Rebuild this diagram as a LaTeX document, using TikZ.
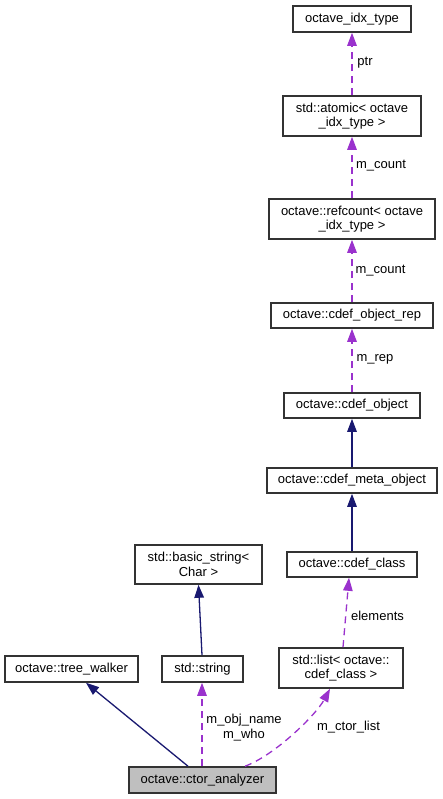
\documentclass[tikz,border=0pt]{standalone}
\usepackage{fontspec}
\setmainfont{Liberation Sans}
\usetikzlibrary{arrows.meta,calc}
\definecolor{navyedge}{HTML}{191970}
\definecolor{orchid}{HTML}{9A32CD}
\begin{document}
\begin{tikzpicture}[x=1pt,y=-1pt,
  box/.style={draw=black!80,line width=1.6pt,fill=white,inner sep=0pt,align=center,
    font=\fontsize{13}{14.5}\selectfont},
  mainbox/.style={box,fill=black!25},
  inh/.style={draw=navyedge,line width=1.3pt,-{Triangle[length=13pt,width=9.5pt]}},
  use/.style={draw=orchid,line width=1.3pt,dash pattern=on 7pt off 5pt,
    -{Triangle[length=13pt,width=9.5pt]}},
  lbl/.style={font=\fontsize{13}{15}\selectfont,inner sep=0pt,align=center}]
\useasboundingbox (0,0) rectangle (443,799);
\fill[white] (0,0) rectangle (443,799);

\node[box,minimum width=118pt,minimum height=26pt] (idx) at (352,19) {octave\_idx\_type};
\node[box,minimum width=138pt,minimum height=40pt] (atomic) at (352,116) {std::atomic< octave\\\_idx\_type >};
\node[box,minimum width=166pt,minimum height=40pt] (refc) at (352,219) {octave::refcount< octave\\\_idx\_type >};
\node[box,minimum width=162pt,minimum height=25pt] (orep) at (352,315.5) {octave::cdef\_object\_rep};
\node[box,minimum width=136pt,minimum height=25pt] (obj) at (352,405.5) {octave::cdef\_object};
\node[box,minimum width=170pt,minimum height=25pt] (meta) at (352,480.5) {octave::cdef\_meta\_object};
\node[box,minimum width=130pt,minimum height=25pt] (cls) at (352,564.5) {octave::cdef\_class};
\node[box,minimum width=127pt,minimum height=39pt] (bstr) at (198.5,564.5) {std::basic\_string<\\Char >};
\node[box,minimum width=133pt,minimum height=26pt] (tw) at (71.5,669) {octave::tree\_walker};
\node[box,minimum width=81pt,minimum height=26pt] (str) at (202.5,669) {std::string};
\node[box,minimum width=124pt,minimum height=40pt] (lst) at (341,668) {std::list< octave::\\cdef\_class >};
\node[mainbox,minimum width=147pt,minimum height=26pt] (ctor) at (202.5,780) {octave::ctor\_analyzer};

\draw[use] (atomic.north) -- (idx.south);
\draw[use] (refc.north) -- (atomic.south);
\draw[use] (orep.north) -- (refc.south);
\draw[use] (obj.north) -- (orep.south);
\draw[inh] (meta.north) -- (obj.south);
\draw[inh] (cls.north) -- (meta.south);
\draw[use] ([xshift=2pt]lst.north) -- ([xshift=-3pt]cls.south);
\draw[inh] ([xshift=-0.5pt]str.north) -- (bstr.south);
\draw[inh] ([xshift=-14.5pt]ctor.north) -- ([xshift=14.5pt]tw.south);
\draw[use] ([xshift=-0.5pt]ctor.north) -- ([xshift=-0.5pt]str.south);
\coordinate (la) at ([xshift=42.5pt]ctor.north);
\coordinate (lb) at ([xshift=-11pt]lst.south);
\draw[use] (la) .. controls ($(la)+(30,-11)$) and ($(lb)+(-14,26)$) .. (lb);

\node[lbl] (lptr) at (365,63) {ptr};
\node[lbl] (lcnt1) at (381,166) {m\_count};
\node[lbl] (lcnt2) at (380.5,271) {m\_count};
\node[lbl] (lrep) at (375,359) {m\_rep};
\node[lbl] (lel) at (377.5,616) {elements};
\node[lbl] (lobj) at (244,727.5) {m\_obj\_name\\m\_who};
\node[lbl] (lctl) at (348.5,727) {m\_ctor\_list};
\end{tikzpicture}
\end{document}
